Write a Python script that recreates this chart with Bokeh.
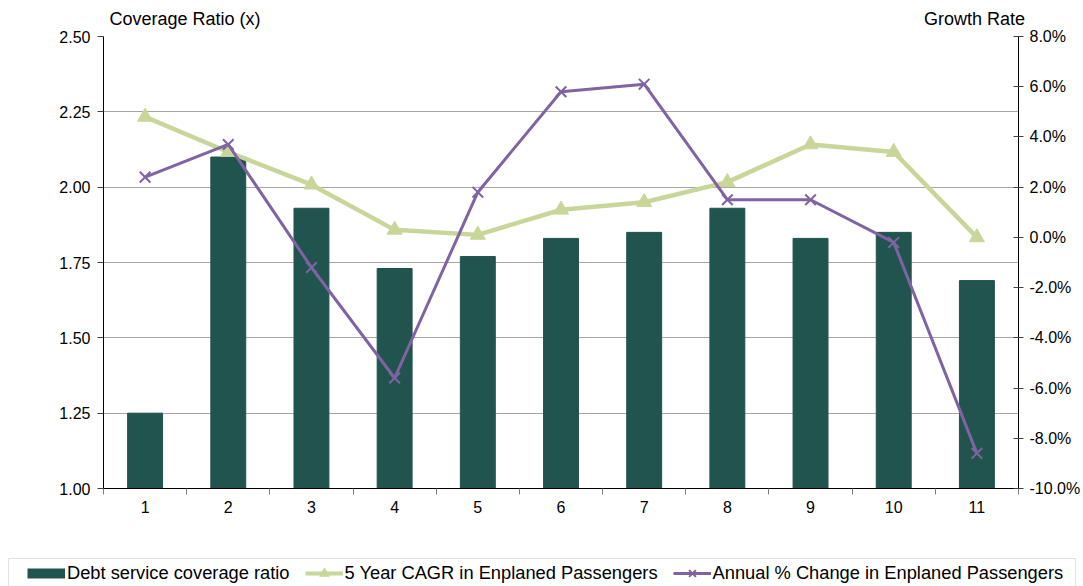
import numpy as np
from bokeh.plotting import figure
from bokeh.layouts import column
from bokeh.models import (Range1d, LinearAxis, FixedTicker, PrintfTickFormatter,
                          Legend, LegendItem, BoxAnnotation, ColumnDataSource)
from bokeh.embed import file_html
from bokeh.resources import INLINE

# ---- data ----
periods = list(range(1, 12))
period_labels = [str(i) for i in periods]
dscr = [1.25, 2.10, 1.93, 1.73, 1.77, 1.83, 1.85, 1.93, 1.83, 1.85, 1.69]
cagr = [4.8, 3.4, 2.1, 0.3, 0.1, 1.1, 1.4, 2.2, 3.7, 3.4, 0.0]
annual = [2.4, 3.7, -1.2, -5.6, 1.8, 5.8, 6.1, 1.5, 1.5, -0.2, -8.6]
left_ticks = [1.00, 1.25, 1.50, 1.75, 2.00, 2.25, 2.50]
right_ticks = [-10, -8, -6, -4, -2, 0, 2, 4, 6, 8]
left_title = "Coverage Ratio (x)"
right_title = "Growth Rate"
series_names = ["Debt service coverage ratio", "5 Year CAGR in Enplaned Passengers",
                "Annual % Change in Enplaned Passengers"]

FONT = "Liberation Sans"
BAR = "#22544F"
GREEN = "#C8D69A"
PURPLE = "#7F63A2"

p = figure(width=1083, height=550, x_range=Range1d(0.5, 11.5), y_range=Range1d(1.0, 2.5),
           output_backend="svg", toolbar_location=None,
           min_border_left=103, min_border_right=64, min_border_top=36, min_border_bottom=62)
p.frame_align = False
p.extra_y_ranges = {"growth": Range1d(-10, 8)}
p.outline_line_color = None
p.background_fill_color = "white"
p.border_fill_color = "white"

# x axis
xa = p.xaxis[0]
xa.ticker = FixedTicker(ticks=periods, minor_ticks=[i + 0.5 for i in range(0, 12)])
xa.major_label_overrides = {i: s for i, s in zip(periods, period_labels)}
xa.major_tick_out = 0
xa.major_tick_in = 0
xa.minor_tick_out = 6
xa.minor_tick_in = 0
xa.minor_tick_line_color = "#808080"
xa.axis_line_color = "black"
xa.major_label_standoff = 6
xa.major_label_text_font = FONT
xa.major_label_text_font_size = "16px"
xa.major_label_text_color = "black"

# left axis
ya = p.yaxis[0]
lt = FixedTicker(ticks=left_ticks, minor_ticks=[])
ya.ticker = lt
ya.formatter = PrintfTickFormatter(format="%.2f")
ya.major_tick_out = 6
ya.major_tick_in = 0
ya.major_tick_line_color = "#404040"
ya.axis_line_color = "black"
ya.major_label_standoff = 7
ya.major_label_text_font = FONT
ya.major_label_text_font_size = "16px"
ya.major_label_text_color = "black"

p.xgrid.visible = False
p.ygrid.ticker = lt
p.ygrid.grid_line_color = "#A6A6A6"
p.ygrid.grid_line_width = 1

# right axis
ra = LinearAxis(y_range_name="growth", ticker=FixedTicker(ticks=right_ticks, minor_ticks=[]),
                formatter=PrintfTickFormatter(format="%.1f%%"))
ra.major_tick_out = 5
ra.major_tick_in = 5
ra.major_tick_line_color = "#404040"
ra.axis_line_color = "black"
ra.major_label_standoff = 6
ra.major_label_text_font = FONT
ra.major_label_text_font_size = "16px"
ra.major_label_text_color = "black"
p.add_layout(ra, "right")

# axis titles, drawn as labels of a bare axis above the frame
ta = LinearAxis(ticker=FixedTicker(ticks=[1.48, 10.97], minor_ticks=[]))
ta.major_label_overrides = {1.48: left_title, 10.97: right_title}
ta.axis_line_color = None
ta.major_tick_line_color = None
ta.major_tick_out = 0
ta.major_tick_in = 0
ta.major_label_standoff = 8
ta.major_label_text_font = FONT
ta.major_label_text_font_size = "18px"
ta.major_label_text_color = "black"
p.add_layout(ta, "above")

# glyphs
p.vbar(x=periods, top=dscr, bottom=1.0, width=0.42, fill_color=BAR, line_color=BAR)
p.line(periods, cagr, y_range_name="growth", line_color=GREEN, line_width=4.5)
p.scatter(periods, cagr, y_range_name="growth", marker="triangle", size=15,
          fill_color=GREEN, line_color=GREEN)
p.line(periods, annual, y_range_name="growth", line_color=PURPLE, line_width=3)
p.scatter(periods, annual, y_range_name="growth", marker="x", size=15,
          line_color=PURPLE, line_width=2)

# ---- legend strip (own figure so it is not clipped by the chart frame) ----
lg = figure(width=1083, height=36, x_range=Range1d(0, 1083), y_range=Range1d(0, 36),
            output_backend="svg", toolbar_location=None, x_axis_type=None, y_axis_type=None,
            min_border_left=0, min_border_right=0, min_border_top=0, min_border_bottom=0)
lg.frame_align = False
lg.outline_line_color = None
lg.xgrid.visible = False
lg.ygrid.visible = False
lg.background_fill_color = "white"
lg.border_fill_color = "white"
lg.add_layout(BoxAnnotation(left=8, right=1075, top=28, bottom=-10, fill_alpha=0,
                            line_color="#A0A0A0", line_width=1))
# legend proxies: a single non-drawable point each, only used for the legend swatches
proxy = ColumnDataSource(data=dict(x=np.array([np.nan]), y=np.array([np.nan])))
r_bar = lg.line("x", "y", source=proxy, line_color=BAR, line_width=10, line_cap="butt")
r_gl = lg.line("x", "y", source=proxy, line_color=GREEN, line_width=4)
r_gs = lg.scatter("x", "y", source=proxy, marker="triangle", fill_color=GREEN, line_color=GREEN)
r_pl = lg.line("x", "y", source=proxy, line_color=PURPLE, line_width=3)
r_ps = lg.scatter("x", "y", source=proxy, marker="x", line_color=PURPLE, line_width=2)

legend = Legend(items=[
    LegendItem(label=series_names[0], renderers=[r_bar]),
    LegendItem(label=series_names[1], renderers=[r_gl, r_gs]),
    LegendItem(label=series_names[2], renderers=[r_pl, r_ps]),
], orientation="horizontal", location=(27, 1),
    label_text_font=FONT, label_text_font_size="18.3px", label_text_color="black",
    glyph_width=38, glyph_height=24, label_standoff=2, spacing=15, padding=0,
    border_line_color=None, background_fill_alpha=0, margin=0)
lg.add_layout(legend, "center")

layout = column(p, lg, spacing=0)
open("out.html", "w").write(file_html(layout, INLINE))
